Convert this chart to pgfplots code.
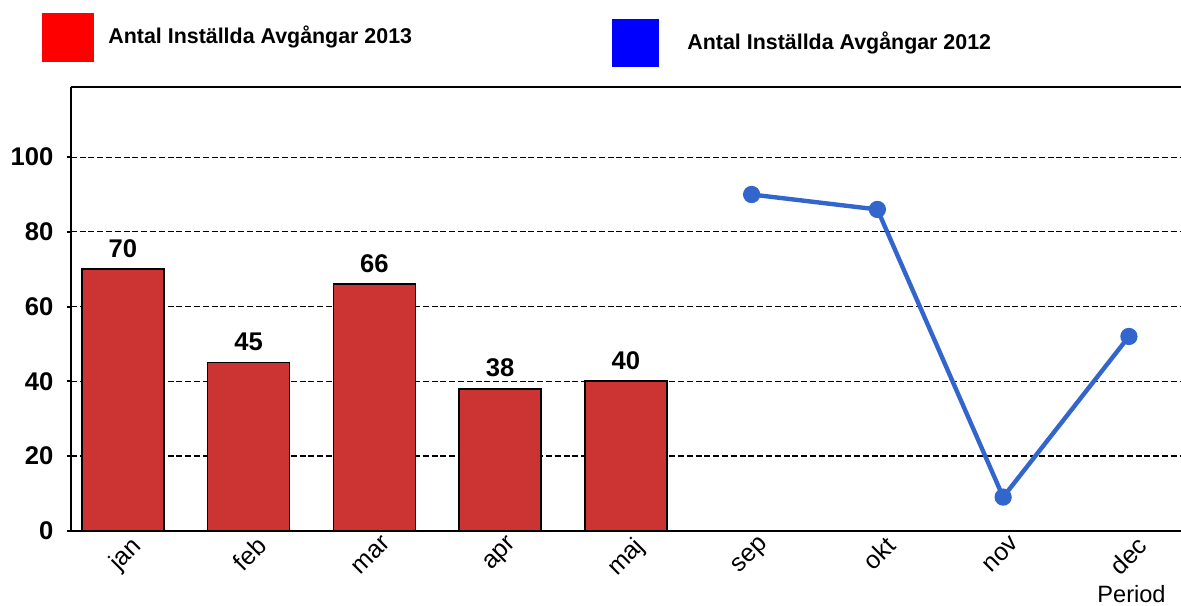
\documentclass[border=0pt]{standalone}
\usepackage{fontspec}
\setmainfont{Liberation Sans}
\usepackage{pgfplots}
\pgfplotsset{compat=1.18}
\definecolor{barred}{RGB}{204,51,51}
\definecolor{lineblue}{RGB}{51,102,204}
\begin{document}
\begin{tikzpicture}
\begin{axis}[
  name=ax,
  scale only axis,
  width=555.15pt, height=221.7pt,
  xmin=-0.414, xmax=8.414,
  ymin=0, ymax=118.7,
  separate axis lines,
  axis x line=box,
  axis y line=left,
  axis line style={-, line width=1.2pt, black},
  axis on top=false,
  xtick={0,1,2,3,4,5,6,7,8},
  xticklabels={jan,feb,mar,apr,maj,sep,okt,nov,dec},
  x tick style={draw=none},
  ytick={0,20,40,60,80,100},
  y tick style={line width=1pt, black},
  tick align=outside,
  major tick length=2pt,
  ymajorgrids,
  grid style={black, line width=0.6pt, dash pattern=on 3pt off 1.4pt},
  /pgf/number format/assume math mode=true,
  yticklabel style={font=\bfseries\fontsize{12.8}{15}\selectfont, inner sep=0pt, xshift=-6.5pt},
  xticklabel style={font=\fontsize{12.5}{15}\selectfont, rotate=45, anchor=north east, inner sep=0pt, xshift=2.5pt, yshift=-2.5pt},
  xlabel={Period},
  xlabel style={at={(axis description cs:1,0)}, anchor=base east, font=\fontsize{11.8}{14}\selectfont, inner sep=0pt, xshift=-7.5pt, yshift=-35.8pt},
  clip=false,
]
\addplot[ybar, bar width=0.652, fill=barred, draw=black, line width=0.8pt,
  nodes near coords,
  nodes near coords style={font=\bfseries\fontsize{12.8}{15}\selectfont, anchor=base, inner sep=0pt, yshift=6pt}]
  coordinates {(0,70) (1,45) (2,66) (3,38) (4,40)};
\addplot[lineblue, line width=2.2pt, mark=*, mark size=3.2pt, mark options={fill=lineblue, draw=lineblue}]
  coordinates {(5,90) (6,86) (7,9) (8,52)};
\node[fill=red, inner sep=0pt, minimum width=26pt, minimum height=24.3pt] at (axis description cs:-0.00243,1.1128) {};
\node[anchor=west, inner sep=0pt, font=\bfseries\fontsize{10.7}{13}\selectfont] at (axis description cs:0.0336,1.1128) {Antal Inställda Avgångar 2013};
\node[fill=blue, inner sep=0pt, minimum width=23.5pt, minimum height=23.8pt] at (axis description cs:0.5087,1.1004) {};
\node[anchor=west, inner sep=0pt, font=\bfseries\fontsize{10.7}{13}\selectfont] at (axis description cs:0.5551,1.1004) {Antal Inställda Avgångar 2012};
\end{axis}
\pgfresetboundingbox
\path ([shift={(-35.35pt,-37.15pt)}]ax.south west) rectangle ([shift={(0pt,43.65pt)}]ax.north east);
\end{tikzpicture}
\end{document}
